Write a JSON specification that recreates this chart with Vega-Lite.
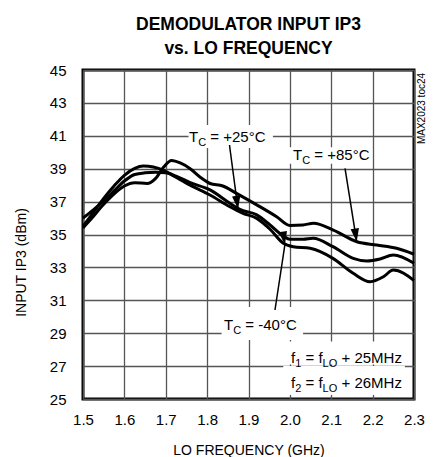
{
  "$schema": "https://vega.github.io/schema/vega-lite/v6.json",
  "width": 331,
  "height": 329,
  "autosize": {"type": "none"},
  "padding": {"left": 83, "top": 70, "right": 26, "bottom": 58},
  "background": "white",
  "config": {
    "view": {"stroke": "#000", "strokeWidth": 3},
    "font": "Liberation Sans"
  },
  "title": {
    "text": ["DEMODULATOR INPUT IP3", "vs. LO FREQUENCY"],
    "font": "Liberation Sans",
    "fontSize": 17.5,
    "fontWeight": "bold",
    "lineHeight": 24,
    "anchor": "middle",
    "offset": 6,
    "color": "#000"
  },
  "datasets": {
    "curves": [
      {"s": "p85", "f": 1.500, "v": 35.40}, {"s": "p85", "f": 1.520, "v": 35.95}, {"s": "p85", "f": 1.545, "v": 36.70},
      {"s": "p85", "f": 1.570, "v": 37.35}, {"s": "p85", "f": 1.600, "v": 37.95}, {"s": "p85", "f": 1.625, "v": 38.15},
      {"s": "p85", "f": 1.655, "v": 38.10}, {"s": "p85", "f": 1.675, "v": 38.40}, {"s": "p85", "f": 1.695, "v": 39.10},
      {"s": "p85", "f": 1.714, "v": 39.50}, {"s": "p85", "f": 1.735, "v": 39.35}, {"s": "p85", "f": 1.759, "v": 39.00},
      {"s": "p85", "f": 1.785, "v": 38.45}, {"s": "p85", "f": 1.807, "v": 38.10}, {"s": "p85", "f": 1.838, "v": 37.95},
      {"s": "p85", "f": 1.871, "v": 37.50}, {"s": "p85", "f": 1.920, "v": 36.80}, {"s": "p85", "f": 1.968, "v": 36.08},
      {"s": "p85", "f": 2.000, "v": 35.55}, {"s": "p85", "f": 2.032, "v": 35.58}, {"s": "p85", "f": 2.057, "v": 35.68},
      {"s": "p85", "f": 2.105, "v": 35.27}, {"s": "p85", "f": 2.162, "v": 34.56}, {"s": "p85", "f": 2.210, "v": 34.36},
      {"s": "p85", "f": 2.258, "v": 34.16}, {"s": "p85", "f": 2.300, "v": 33.80},

      {"s": "p25", "f": 1.500, "v": 36.00}, {"s": "p25", "f": 1.525, "v": 36.50}, {"s": "p25", "f": 1.550, "v": 37.05},
      {"s": "p25", "f": 1.575, "v": 37.65}, {"s": "p25", "f": 1.600, "v": 38.25}, {"s": "p25", "f": 1.625, "v": 38.65},
      {"s": "p25", "f": 1.650, "v": 38.75}, {"s": "p25", "f": 1.675, "v": 38.78}, {"s": "p25", "f": 1.700, "v": 38.75},
      {"s": "p25", "f": 1.725, "v": 38.55}, {"s": "p25", "f": 1.759, "v": 38.15}, {"s": "p25", "f": 1.807, "v": 37.71},
      {"s": "p25", "f": 1.855, "v": 36.90}, {"s": "p25", "f": 1.879, "v": 36.53}, {"s": "p25", "f": 1.920, "v": 36.19},
      {"s": "p25", "f": 1.952, "v": 35.58}, {"s": "p25", "f": 1.984, "v": 34.91}, {"s": "p25", "f": 2.000, "v": 34.71},
      {"s": "p25", "f": 2.032, "v": 34.71}, {"s": "p25", "f": 2.056, "v": 34.77}, {"s": "p25", "f": 2.104, "v": 34.26},
      {"s": "p25", "f": 2.153, "v": 33.55}, {"s": "p25", "f": 2.186, "v": 33.39}, {"s": "p25", "f": 2.218, "v": 33.51},
      {"s": "p25", "f": 2.250, "v": 33.75}, {"s": "p25", "f": 2.300, "v": 33.25},

      {"s": "m40", "f": 1.500, "v": 35.50}, {"s": "m40", "f": 1.525, "v": 36.35}, {"s": "m40", "f": 1.550, "v": 37.20},
      {"s": "m40", "f": 1.575, "v": 37.95}, {"s": "m40", "f": 1.600, "v": 38.60}, {"s": "m40", "f": 1.625, "v": 39.02},
      {"s": "m40", "f": 1.646, "v": 39.16}, {"s": "m40", "f": 1.670, "v": 39.10}, {"s": "m40", "f": 1.695, "v": 38.90},
      {"s": "m40", "f": 1.720, "v": 38.55}, {"s": "m40", "f": 1.759, "v": 38.00}, {"s": "m40", "f": 1.807, "v": 37.40},
      {"s": "m40", "f": 1.855, "v": 36.69}, {"s": "m40", "f": 1.887, "v": 36.29}, {"s": "m40", "f": 1.920, "v": 35.98},
      {"s": "m40", "f": 1.952, "v": 35.32}, {"s": "m40", "f": 1.984, "v": 34.47}, {"s": "m40", "f": 2.008, "v": 34.26},
      {"s": "m40", "f": 2.049, "v": 34.16}, {"s": "m40", "f": 2.104, "v": 33.55}, {"s": "m40", "f": 2.153, "v": 32.64},
      {"s": "m40", "f": 2.194, "v": 32.13}, {"s": "m40", "f": 2.226, "v": 32.43}, {"s": "m40", "f": 2.250, "v": 32.84},
      {"s": "m40", "f": 2.300, "v": 32.20}
    ],
    "boxes": [
      {"x": 1.755, "x2": 1.959, "y": 40.26, "y2": 41.66},
      {"x": 1.995, "x2": 2.195, "y": 39.30, "y2": 40.30},
      {"x": 1.835, "x2": 2.032, "y": 28.59, "y2": 30.60},
      {"x": 1.984, "x2": 2.278, "y": 27.10, "y2": 28.50},
      {"x": 1.984, "x2": 2.278, "y": 25.25, "y2": 27.00}
    ],
    "labels": [
      {"role": "main", "x": 1.7562, "y": 40.62, "t": "T"},
      {"role": "main", "x": 1.8077, "y": 40.62, "t": "= +25°C"},
      {"role": "main", "x": 2.0076, "y": 39.53, "t": "T"},
      {"role": "main", "x": 2.0590, "y": 39.53, "t": "= +85°C"},
      {"role": "main", "x": 1.8408, "y": 29.19, "t": "T"},
      {"role": "main", "x": 1.8923, "y": 29.19, "t": "= -40°C"},
      {"role": "main", "x": 2.0027, "y": 27.19, "t": "f"},
      {"role": "main", "x": 2.0378, "y": 27.19, "t": "= f"},
      {"role": "main", "x": 2.1248, "y": 27.19, "t": "+ 25MHz"},
      {"role": "main", "x": 2.0027, "y": 25.67, "t": "f"},
      {"role": "main", "x": 2.0378, "y": 25.67, "t": "= f"},
      {"role": "main", "x": 2.1248, "y": 25.67, "t": "+ 26MHz"},
      {"role": "sub", "x": 1.7784, "y": 40.62, "t": "C"},
      {"role": "sub", "x": 2.0298, "y": 39.53, "t": "C"},
      {"role": "sub", "x": 1.8630, "y": 29.19, "t": "C"},
      {"role": "sub", "x": 2.0128, "y": 27.19, "t": "1"},
      {"role": "sub", "x": 2.0791, "y": 27.19, "t": "LO"},
      {"role": "sub", "x": 2.0128, "y": 25.67, "t": "2"},
      {"role": "sub", "x": 2.0791, "y": 25.67, "t": "LO"}
    ],
    "arrows": [
      {"s": "p25", "x": 1.854, "y": 40.44, "x2": 1.8746, "y2": 36.55},
      {"s": "p85", "x": 2.1333, "y": 39.02, "x2": 2.1615, "y2": 34.56},
      {"s": "m40", "x": 1.964, "y": 30.41, "x2": 1.988, "y2": 34.38}
    ],
    "note": [
      {"x": 2.3193, "y": 42.66, "t": "MAX2023 toc24"}
    ]
  },
  "layer": [
    {
      "data": {"name": "boxes"},
      "mark": {"type": "rect", "fill": "white", "stroke": null},
      "encoding": {
        "x": {
          "field": "x", "type": "quantitative",
          "scale": {"domain": [1.5, 2.3], "nice": false, "zero": false},
          "axis": {
            "values": [1.5, 1.6, 1.7, 1.8, 1.9, 2.0, 2.1, 2.2, 2.3],
            "tickCount": 20,
            "format": ".1f",
            "title": "LO FREQUENCY (GHz)",
            "domain": false, "ticks": false,
            "grid": true, "gridColor": "#555", "gridWidth": 1.3, "gridOpacity": 1,
            "labelFont": "Liberation Sans", "labelFontSize": 15, "labelColor": "#000",
            "labelPadding": 13, "labelFlush": false, "labelOverlap": false,
            "titleFont": "Liberation Sans", "titleFontSize": 14, "titleFontWeight": "normal", "titleColor": "#000",
            "titleY": 55, "titleBaseline": "alphabetic"
          }
        },
        "x2": {"field": "x2"},
        "y": {
          "field": "y", "type": "quantitative",
          "scale": {"domain": [25, 45], "nice": false, "zero": false},
          "axis": {
            "values": [25, 27, 29, 31, 33, 35, 37, 39, 41, 43, 45],
            "tickCount": 20,
            "title": "INPUT IP3 (dBm)",
            "domain": false, "ticks": false,
            "grid": true, "gridColor": "#555", "gridWidth": 1.3, "gridOpacity": 1,
            "labelFont": "Liberation Sans", "labelFontSize": 15, "labelColor": "#000",
            "labelPadding": 17, "labelFlush": false, "labelOverlap": false,
            "titleFont": "Liberation Sans", "titleFontSize": 14, "titleFontWeight": "normal", "titleColor": "#000",
            "titleX": -62, "titleY": 192, "titleAngle": 270, "titleBaseline": "middle", "titleAlign": "center"
          }
        },
        "y2": {"field": "y2"}
      }
    },
    {
      "data": {"name": "curves"},
      "mark": {"type": "line", "color": "#000", "strokeWidth": 3, "interpolate": "monotone"},
      "encoding": {
        "x": {"field": "f", "type": "quantitative"},
        "y": {"field": "v", "type": "quantitative"},
        "detail": {"field": "s"}
      }
    },
    {
      "data": {"name": "arrows"},
      "mark": {"type": "rule", "color": "#000", "strokeWidth": 1.5},
      "encoding": {
        "x": {"field": "x", "type": "quantitative"},
        "y": {"field": "y", "type": "quantitative"},
        "x2": {"field": "x2"},
        "y2": {"field": "y2"}
      }
    },
    {
      "data": {"name": "arrows"},
      "mark": {"type": "point", "shape": "M0,0L-0.32,-1L0.32,-1Z", "filled": true, "color": "#000", "opacity": 1, "size": 700},
      "encoding": {
        "x": {"field": "x2", "type": "quantitative"},
        "y": {"field": "y2", "type": "quantitative"},
        "angle": {
          "field": "s", "type": "nominal",
          "scale": {"domain": ["p25", "p85", "m40"], "range": [352.4, 350.95, 188.6]},
          "legend": null
        }
      }
    },
    {
      "data": {"name": "labels"},
      "transform": [{"filter": "datum.role === 'main'"}],
      "mark": {"type": "text", "align": "left", "baseline": "alphabetic", "fontSize": 15, "font": "Liberation Sans", "color": "#000"},
      "encoding": {
        "x": {"field": "x", "type": "quantitative"},
        "y": {"field": "y", "type": "quantitative"},
        "text": {"field": "t"}
      }
    },
    {
      "data": {"name": "labels"},
      "transform": [{"filter": "datum.role === 'sub'"}],
      "mark": {"type": "text", "align": "left", "baseline": "alphabetic", "fontSize": 11, "dy": 4, "font": "Liberation Sans", "color": "#000"},
      "encoding": {
        "x": {"field": "x", "type": "quantitative"},
        "y": {"field": "y", "type": "quantitative"},
        "text": {"field": "t"}
      }
    },
    {
      "data": {"name": "note"},
      "mark": {"type": "text", "align": "center", "baseline": "middle", "angle": 270, "fontSize": 10, "font": "Liberation Sans", "color": "#000"},
      "encoding": {
        "x": {"field": "x", "type": "quantitative"},
        "y": {"field": "y", "type": "quantitative"},
        "text": {"field": "t"}
      }
    }
  ]
}
